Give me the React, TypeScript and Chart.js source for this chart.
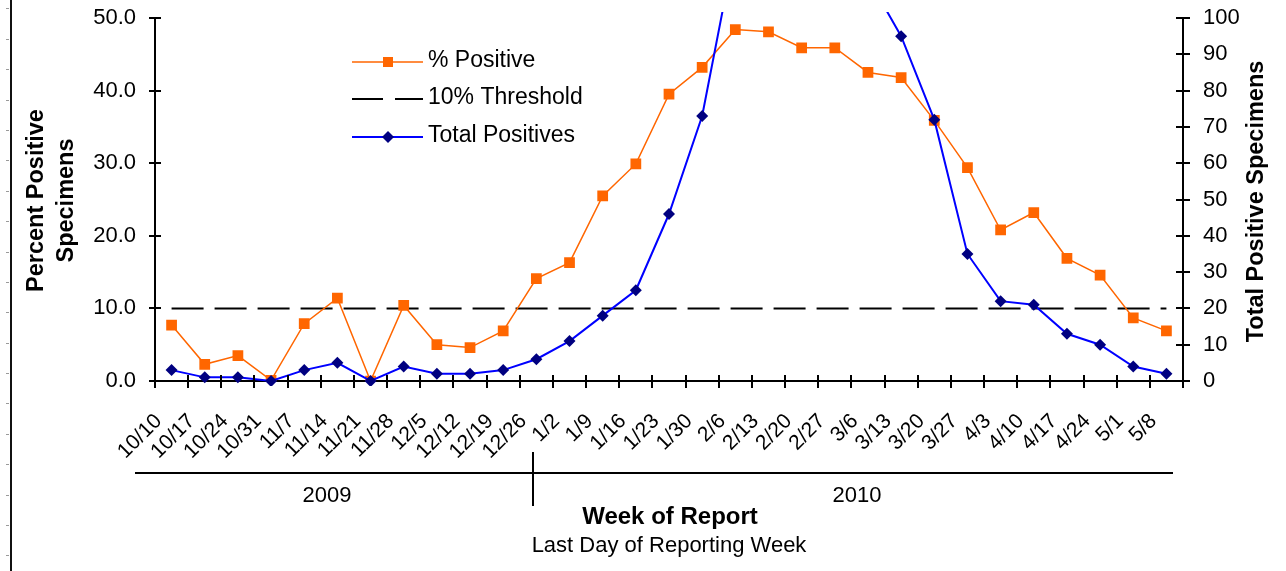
import React, { useEffect, useRef } from 'react';
import { Chart, registerables } from 'chart.js';

Chart.register(...registerables);

const FONT = "Arial, 'Liberation Sans', sans-serif";

const categories = [
  '10/10', '10/17', '10/24', '10/31', '11/7', '11/14', '11/21', '11/28', '12/5', '12/12', '12/19', '12/26',
  '1/2', '1/9', '1/16', '1/23', '1/30', '2/6', '2/13', '2/20', '2/27', '3/6', '3/13', '3/20', '3/27',
  '4/3', '4/10', '4/17', '4/24', '5/1', '5/8',
];

const percentPositive = [
  7.7, 2.3, 3.5, 0.1, 7.9, 11.4, 0.0, 10.4, 5.0, 4.6, 6.9, 14.1,
  16.3, 25.5, 29.9, 39.5, 43.2, 48.4, 48.1, 45.9, 45.9, 42.5, 41.8, 35.9, 29.4,
  20.8, 23.2, 16.9, 14.6, 8.7, 6.9,
];

const totalPositives = [
  3, 1, 1, 0, 3, 5, 0, 4, 2, 2, 3, 6,
  11, 18, 25, 46, 73, 120, 138, 142, 130, 111, 95, 72, 35,
  22, 21, 13, 10, 4, 2,
];

const thresholdValue = 10;

const leftTicks = [0, 10, 20, 30, 40, 50];
const rightTicks = [0, 10, 20, 30, 40, 50, 60, 70, 80, 90, 100];

const years = ['2009', '2010'];

const seriesLabels = ['% Positive', '10% Threshold', 'Total Positives'];
const leftTitle = ['Percent Positive', 'Specimens'];
const rightTitle = 'Total Positive Specimens';
const xTitle = 'Week of Report';
const xSubtitle = 'Last Day of Reporting Week';

const ORANGE = '#FF6600';
const BLUE = '#0000FF';
const NAVY = '#000080';

const decorPlugin = {
  id: 'decor',
  afterDraw(chart: any) {
    const { ctx, chartArea: ca, scales } = chart;
    const xs = scales.x;
    const yl = scales.y;
    const yr = scales.y1;
    ctx.save();

    // left edge ruler
    ctx.strokeStyle = '#111';
    ctx.lineWidth = 2;
    ctx.beginPath();
    ctx.moveTo(11, 0);
    ctx.lineTo(11, chart.height);
    ctx.stroke();
    ctx.strokeStyle = '#9a9a9a';
    ctx.lineWidth = 1;
    for (let y = 8.3; y < chart.height; y += 30.4) {
      const yy = Math.round(y) + 0.5;
      ctx.beginPath();
      ctx.moveTo(6, yy);
      ctx.lineTo(9, yy);
      ctx.stroke();
    }

    // tick marks crossing axes
    ctx.strokeStyle = '#000';
    ctx.lineWidth = 2;
    yl.ticks.forEach((_t: any, i: number) => {
      const py = Math.round(yl.getPixelForTick(i));
      ctx.beginPath();
      ctx.moveTo(ca.left - 6, py);
      ctx.lineTo(ca.left + 6, py);
      ctx.stroke();
    });
    yr.ticks.forEach((_t: any, i: number) => {
      const py = Math.round(yr.getPixelForTick(i));
      ctx.beginPath();
      ctx.moveTo(ca.right - 7, py);
      ctx.lineTo(ca.right + 7, py);
      ctx.stroke();
    });
    const n = categories.length;
    for (let i = 0; i <= n; i++) {
      const px = Math.round(xs.left + (i * xs.width) / n);
      ctx.beginPath();
      ctx.moveTo(px, ca.bottom - 6);
      ctx.lineTo(px, ca.bottom + 7);
      ctx.stroke();
    }

    // year row
    const rowY = 473;
    const splitX = Math.round(xs.getPixelForValue(11) - 3.5);
    ctx.lineWidth = 2;
    ctx.beginPath();
    ctx.moveTo(ca.left - 20, rowY);
    ctx.lineTo(ca.right - 10, rowY);
    ctx.stroke();
    ctx.beginPath();
    ctx.moveTo(splitX, rowY - 21);
    ctx.lineTo(splitX, rowY + 33);
    ctx.stroke();
    ctx.fillStyle = '#000';
    ctx.font = `22px ${FONT}`;
    ctx.textAlign = 'center';
    ctx.textBaseline = 'middle';
    ctx.fillText(years[0], (ca.left - 20 + splitX) / 2 - 7, 496);
    ctx.fillText(years[1], (splitX + ca.right - 10) / 2 + 4, 496);

    // x titles
    const cx = (ca.left + ca.right) / 2;
    ctx.font = `bold 24px ${FONT}`;
    ctx.fillText(xTitle, cx + 1, 517);
    ctx.font = `22px ${FONT}`;
    ctx.fillText(xSubtitle, cx, 546);

    // y titles
    const cy = (ca.top + ca.bottom) / 2;
    ctx.font = `bold 23.5px ${FONT}`;
    ctx.save();
    ctx.translate(37, cy + 1);
    ctx.rotate(-Math.PI / 2);
    ctx.fillText(leftTitle[0], 0, 0);
    ctx.restore();
    ctx.save();
    ctx.translate(67, cy + 1);
    ctx.rotate(-Math.PI / 2);
    ctx.fillText(leftTitle[1], 0, 0);
    ctx.restore();
    ctx.save();
    ctx.translate(1257, cy + 2);
    ctx.rotate(-Math.PI / 2);
    ctx.fillText(rightTitle, 0, 0);
    ctx.restore();

    // legend
    const lx0 = 352;
    const lx1 = 423;
    const mx = 388;
    const rows = [62, 99, 137];
    ctx.textAlign = 'left';
    ctx.font = `23px ${FONT}`;
    // % positive
    ctx.strokeStyle = ORANGE;
    ctx.lineWidth = 1.5;
    ctx.beginPath();
    ctx.moveTo(lx0, rows[0]);
    ctx.lineTo(lx1, rows[0]);
    ctx.stroke();
    ctx.fillStyle = ORANGE;
    ctx.fillRect(mx - 5, rows[0] - 5, 10, 10);
    // threshold
    ctx.strokeStyle = '#000';
    ctx.lineWidth = 2;
    ctx.beginPath();
    ctx.moveTo(lx0, rows[1]);
    ctx.lineTo(383, rows[1]);
    ctx.moveTo(395, rows[1]);
    ctx.lineTo(lx1, rows[1]);
    ctx.stroke();
    // total positives
    ctx.strokeStyle = BLUE;
    ctx.lineWidth = 2;
    ctx.beginPath();
    ctx.moveTo(lx0, rows[2]);
    ctx.lineTo(lx1, rows[2]);
    ctx.stroke();
    ctx.fillStyle = NAVY;
    ctx.beginPath();
    ctx.moveTo(mx, rows[2] - 6);
    ctx.lineTo(mx + 6, rows[2]);
    ctx.lineTo(mx, rows[2] + 6);
    ctx.lineTo(mx - 6, rows[2]);
    ctx.closePath();
    ctx.fill();
    ctx.fillStyle = '#000';
    seriesLabels.forEach((s, i) => ctx.fillText(s, 428, rows[i] - 1));

    ctx.restore();
  },
};

export default function App() {
  const ref = useRef<HTMLCanvasElement | null>(null);

  useEffect(() => {
    if (!ref.current) return;
    const chart = new Chart(ref.current, {
      type: 'line',
      data: {
        labels: categories,
        datasets: [
          {
            label: seriesLabels[2],
            data: totalPositives,
            yAxisID: 'y1',
            borderColor: BLUE,
            borderWidth: 2,
            pointStyle: 'rectRot',
            pointRadius: 6,
            pointBackgroundColor: NAVY,
            pointBorderColor: NAVY,
            pointBorderWidth: 0,
            tension: 0,
            order: 1,
            clip: { left: 5, top: 6, right: 5, bottom: 5 },
          } as any,
          {
            label: seriesLabels[0],
            data: percentPositive,
            yAxisID: 'y',
            borderColor: ORANGE,
            borderWidth: 1.5,
            pointStyle: 'rect',
            pointRadius: 7.6,
            pointBackgroundColor: ORANGE,
            pointBorderColor: ORANGE,
            pointBorderWidth: 0,
            tension: 0,
            order: 2,
          },
          {
            label: seriesLabels[1],
            data: categories.map(() => thresholdValue),
            yAxisID: 'y',
            borderColor: '#000',
            borderWidth: 2,
            borderDash: [32, 11],
            pointRadius: 0,
            tension: 0,
            order: 3,
          },
        ],
      },
      options: {
        animation: false,
        responsive: false,
        maintainAspectRatio: false,
        layout: { padding: { left: 0, right: 0, top: 18, bottom: 0 } },
        plugins: {
          legend: { display: false },
          tooltip: { enabled: false },
          title: { display: false },
        },
        scales: {
          x: {
            type: 'category',
            offset: true,
            grid: { display: false, drawTicks: false },
            border: { display: true, color: '#000', width: 2 },
            ticks: {
              autoSkip: false,
              minRotation: 45,
              maxRotation: 45,
              padding: 28,
              labelOffset: -13,
              color: '#000',
              font: { family: FONT, size: 21 },
            },
            afterFit: (s: any) => {
              s.height = 190;
              s.paddingLeft = 0;
              s.paddingRight = 0;
            },
          },
          y: {
            position: 'left',
            min: 0,
            max: 50,
            grid: { display: false, drawTicks: false },
            border: { display: true, color: '#000', width: 2 },
            afterBuildTicks: (s: any) => {
              s.ticks = leftTicks.map((v) => ({ value: v }));
            },
            ticks: {
              padding: 19,
              color: '#000',
              font: { family: FONT, size: 22 },
              callback: (v: any) => Number(v).toFixed(1),
            },
            afterFit: (s: any) => {
              s.width = 155;
              s.paddingTop = 0;
              s.paddingBottom = 0;
            },
          },
          y1: {
            position: 'right',
            min: 0,
            max: 100,
            grid: { display: false, drawTicks: false },
            border: { display: true, color: '#000', width: 2 },
            afterBuildTicks: (s: any) => {
              s.ticks = rightTicks.map((v) => ({ value: v }));
            },
            ticks: {
              padding: 20,
              color: '#000',
              font: { family: FONT, size: 22 },
              callback: (v: any) => String(v),
            },
            afterFit: (s: any) => {
              s.width = 103;
              s.paddingTop = 0;
              s.paddingBottom = 0;
            },
          },
        },
      },
      plugins: [decorPlugin],
    });
    return () => chart.destroy();
  }, []);

  return (
    <div style={{ position: 'absolute', left: 0, top: 0, width: 1286, height: 571, background: '#fff' }}>
      <canvas ref={ref} width={1286} height={571} style={{ display: 'block', width: 1286, height: 571 }} />
    </div>
  );
}
